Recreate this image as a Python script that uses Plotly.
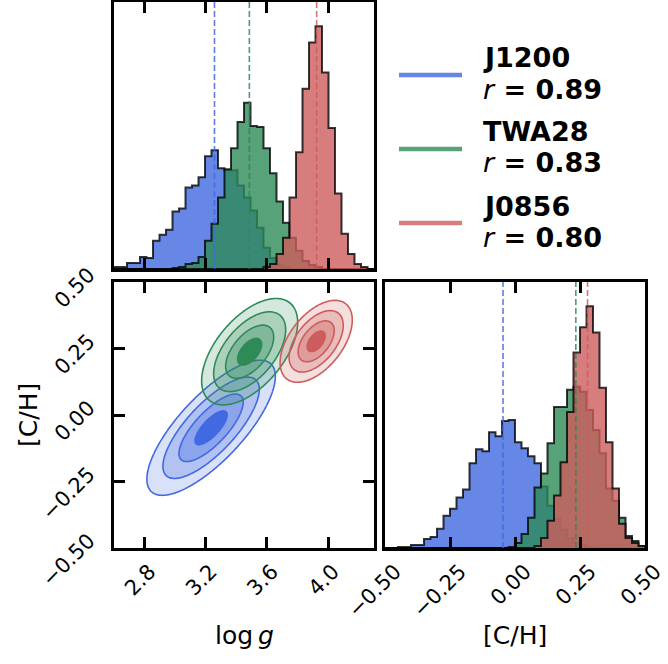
import numpy as np
import plotly.graph_objects as go

W, H = 668, 664

# ---------------- data ----------------
names = ["J1200", "TWA28", "J0856"]
r_values = ["0.89", "0.83", "0.80"]
base_rgb = [(65, 105, 225), (46, 139, 87), (205, 92, 92)]

logg_range = [2.6, 4.3]
ch_range = [-0.5, 0.5]
n_bins = 40

# histogram heights (arbitrary units) for log g, 40 bins over logg_range
blue_logg = [2, 2, 6, 6, 12, 11, 28, 34, 39, 57, 60, 81, 83, 91, 112, 118, 100, 98, 98, 83,
             71, 58, 41, 21, 11, 4, 2, 0, 0, 0, 0, 0, 0, 0, 0, 0, 0, 0, 0, 0]
green_logg = [0, 0, 0, 0, 0, 0, 0, 0, 0, 1, 2, 5, 6, 12, 28, 45, 71, 99, 120, 146,
              165, 142, 141, 120, 95, 67, 46, 31, 18, 8, 4, 2, 0, 0, 0, 0, 0, 0, 0, 0]
red_logg = [0, 0, 0, 0, 0, 0, 0, 0, 0, 0, 0, 0, 0, 0, 0, 0, 0, 0, 0, 0,
            0, 0, 0, 2, 5, 15, 31, 71, 116, 179, 225, 241, 195, 140, 75, 35, 15, 5, 2, 0]

# histogram heights for [C/H], 40 bins over ch_range
blue_ch = [0, 0, 1, 1, 3, 3, 9, 11, 19, 32, 39, 50, 58, 84, 98, 96, 115, 111, 126, 127,
           105, 99, 91, 84, 61, 42, 29, 18, 10, 5, 3, 1, 0, 0, 0, 0, 0, 0, 0, 0]
green_ch = [0, 0, 0, 0, 0, 0, 0, 0, 0, 0, 0, 0, 0, 0, 0, 0, 0, 0, 0, 1,
            5, 14, 30, 60, 74, 104, 140, 140, 157, 160, 155, 137, 117, 94, 59, 47, 30, 12, 7, 2]
red_ch = [0, 0, 0, 0, 0, 0, 0, 0, 0, 0, 0, 0, 0, 0, 0, 0, 0, 0, 0, 0,
          0, 0, 0, 2, 10, 27, 52, 85, 135, 194, 219, 240, 214, 159, 105, 59, 24, 10, 5, 2]

# median (dashed) lines
med_logg = [3.257, 3.485, 3.925]
med_ch = [-0.046, 0.234, 0.279]

# 2-D contour shape parameters (centre, widths, tilt) read from the ellipses
cen_logg = [3.235, 3.487, 3.922]
cen_ch = [-0.048, 0.238, 0.277]
sig_logg = [0.21, 0.157, 0.118]
sig_ch = [0.127, 0.100, 0.077]
tilt = [0.76, 0.55, 0.52]

logg_ticks = [2.8, 3.2, 3.6, 4.0]
logg_ticktext = ["2.8", "3.2", "3.6", "4.0"]
ch_ticks = [-0.5, -0.25, 0.0, 0.25, 0.5]
ch_ticktext = ["\u22120.50", "\u22120.25", "0.00", "0.25", "0.50"]

hist_logg = [blue_logg, green_logg, red_logg]
hist_ch = [blue_ch, green_ch, red_ch]

FONT = "DejaVu Sans"


def rgba(c, a):
    return "rgba(%d,%d,%d,%g)" % (c[0], c[1], c[2], a)


def step_xy(edges, counts):
    xs = [edges[0]] + list(edges[:-1]) + [edges[-1], edges[-1]]
    ys = [0] + list(counts) + [counts[-1], 0]
    return xs, ys


fig = go.Figure()

# ---------------- top-left: log g histograms ----------------
edges_logg = np.linspace(logg_range[0], logg_range[1], n_bins + 1)
ymax_top = 1.1 * max(max(h) for h in hist_logg)
for i in range(3):
    xs, ys = step_xy(edges_logg, hist_logg[i])
    fig.add_trace(go.Scatter(x=xs, y=ys, mode="lines", line_shape="hv",
                             fill="tozeroy", fillcolor=rgba(base_rgb[i], 0.8),
                             line=dict(color="rgba(0,0,0,0.78)", width=2),
                             xaxis="x", yaxis="y", hoverinfo="skip", showlegend=False))
for i in range(3):
    fig.add_trace(go.Scatter(x=[med_logg[i], med_logg[i]], y=[0, ymax_top], mode="lines",
                             line=dict(color=rgba(base_rgb[i], 0.85), width=1.6, dash="6px,3px"),
                             xaxis="x", yaxis="y", hoverinfo="skip", showlegend=False))

# ---------------- bottom-right: [C/H] histograms ----------------
edges_ch = np.linspace(ch_range[0], ch_range[1], n_bins + 1)
ymax_br = 1.1 * max(max(h) for h in hist_ch)
for i in range(3):
    xs, ys = step_xy(edges_ch, hist_ch[i])
    fig.add_trace(go.Scatter(x=xs, y=ys, mode="lines", line_shape="hv",
                             fill="tozeroy", fillcolor=rgba(base_rgb[i], 0.8),
                             line=dict(color="rgba(0,0,0,0.78)", width=2),
                             xaxis="x3", yaxis="y3", hoverinfo="skip", showlegend=False))
for i in range(3):
    fig.add_trace(go.Scatter(x=[med_ch[i], med_ch[i]], y=[0, ymax_br], mode="lines",
                             line=dict(color=rgba(base_rgb[i], 0.85), width=1.6, dash="6px,3px"),
                             xaxis="x3", yaxis="y3", hoverinfo="skip", showlegend=False))

# ---------------- bottom-left: 2-D contours ----------------
gx = np.linspace(logg_range[0], logg_range[1], 260)
gy = np.linspace(ch_range[0], ch_range[1], 260)
GX, GY = np.meshgrid(gx, gy)
for i in range(3):
    u = (GX - cen_logg[i]) / sig_logg[i]
    v = (GY - cen_ch[i]) / sig_ch[i]
    r = tilt[i]
    d2 = (u * u - 2 * r * u * v + v * v) / (1 - r * r)
    z = -np.sqrt(d2)
    c = base_rgb[i]
    cs = [[0.0, rgba(c, 0.0)], [0.25, rgba(c, 0.2)], [0.5, rgba(c, 0.25)],
          [0.75, rgba(c, 0.34)], [1.0, rgba(c, 1.0)]]
    fig.add_trace(go.Contour(x=gx, y=gy, z=z, xaxis="x2", yaxis="y2",
                             contours=dict(start=-2.0, end=-0.5, size=0.5, coloring="fill",
                                           showlines=True),
                             line=dict(color=rgba(c, 1.0), width=1.6, smoothing=1),
                             colorscale=cs, showscale=False, hoverinfo="skip"))

# ---------------- layout ----------------
def px_x(p):
    return p / W


def px_y(p):
    return 1 - p / H


axis_common = dict(showline=True, linewidth=3, linecolor="black", showgrid=False,
                   zeroline=False, ticks="inside", ticklen=11, tickwidth=2.5,
                   tickcolor="black", automargin=False, ticklabeloverflow="allow",
                   tickfont=dict(family=FONT, size=21, color="black"))

xd_left = [px_x(114), px_x(374)]
xd_right = [px_x(385), px_x(645)]
yd_top = [px_y(269), px_y(2)]
yd_bot = [px_y(548), px_y(282)]

fig.update_layout(
    width=W, height=H, margin=dict(l=0, r=0, t=0, b=0, autoexpand=False),
    paper_bgcolor="white", plot_bgcolor="white",
    font=dict(family=FONT, color="black"),
    showlegend=False,
    xaxis=dict(axis_common, domain=xd_left, anchor="y", range=logg_range,
               tickvals=logg_ticks, showticklabels=False, mirror="ticks"),
    yaxis=dict(axis_common, domain=yd_top, anchor="x", range=[0, ymax_top],
               ticks="", showticklabels=False, mirror=True),
    xaxis2=dict(axis_common, domain=xd_left, anchor="y2", range=logg_range,
                tickvals=logg_ticks, ticktext=logg_ticktext, tickangle=-45, mirror="ticks",
                ticklabelshift=5, ticklabelstandoff=0),
    yaxis2=dict(axis_common, domain=yd_bot, anchor="x2", range=ch_range,
                tickvals=ch_ticks, ticktext=ch_ticktext, tickangle=-45, mirror="ticks",
                ticklabelstandoff=18, ticklabelshift=-10),
    xaxis3=dict(axis_common, domain=xd_right, anchor="y3", range=ch_range,
                tickvals=ch_ticks, ticktext=ch_ticktext, tickangle=-45, mirror="ticks",
                ticklabelshift=10, ticklabelstandoff=0),
    yaxis3=dict(axis_common, domain=yd_bot, anchor="x3", range=[0, ymax_br],
                ticks="", showticklabels=False, mirror=True),
)

ann = []
ann.append(dict(text="log\u2009<i>g</i>", x=px_x(244), y=px_y(635), xref="paper", yref="paper",
                showarrow=False, xanchor="center", yanchor="middle",
                font=dict(family=FONT, size=25)))
ann.append(dict(text="[C/H]", x=px_x(515), y=px_y(635), xref="paper", yref="paper",
                showarrow=False, xanchor="center", yanchor="middle",
                font=dict(family=FONT, size=25)))
ann.append(dict(text="[C/H]", x=px_x(28), y=px_y(415), xref="paper", yref="paper",
                showarrow=False, xanchor="center", yanchor="middle", textangle=-90,
                font=dict(family=FONT, size=25)))

# legend (lines + two-line labels)
leg_line_y = [75, 149, 223]
leg_name_y = [58, 131, 206]
leg_r_y = [89, 163, 237]
shapes = []
for i in range(3):
    shapes.append(dict(type="line", xref="paper", yref="paper",
                       x0=px_x(399), x1=px_x(462), y0=px_y(leg_line_y[i]), y1=px_y(leg_line_y[i]),
                       line=dict(color=rgba(base_rgb[i], 0.8), width=4.5)))
    ann.append(dict(text="<b>%s</b>" % names[i], x=px_x(481), y=px_y(leg_name_y[i]),
                    xref="paper", yref="paper", showarrow=False, xanchor="left",
                    yanchor="middle", font=dict(family=FONT, size=27)))
    ann.append(dict(text="<i>r</i><b> = %s</b>" % r_values[i], x=px_x(481), y=px_y(leg_r_y[i]),
                    xref="paper", yref="paper", showarrow=False, xanchor="left",
                    yanchor="middle", font=dict(family=FONT, size=27)))

fig.update_layout(annotations=ann, shapes=shapes)

fig.write_html("out.html", config={"displayModeBar": False},
               post_script="document.body.style.margin='0px';document.body.style.overflow='hidden';")
